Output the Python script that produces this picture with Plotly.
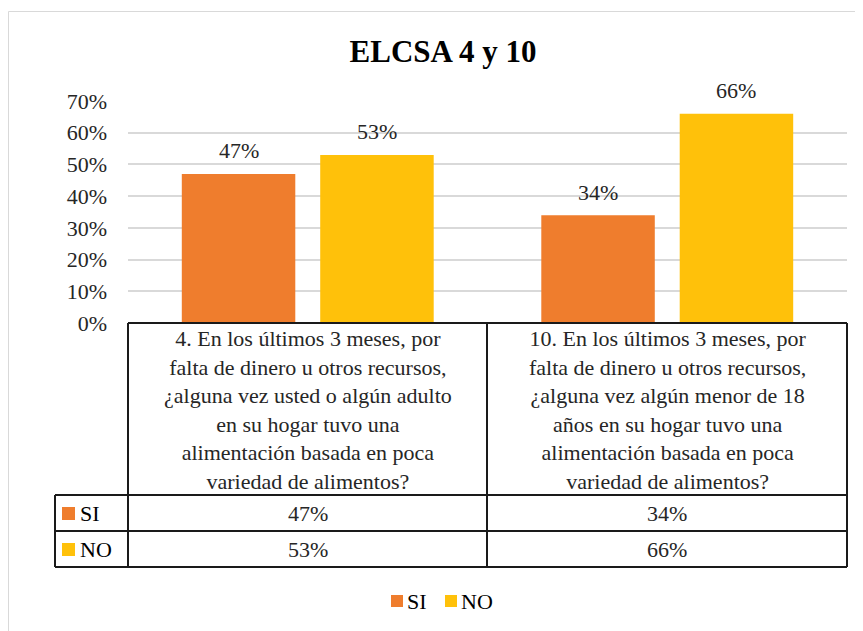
import plotly.graph_objects as go

categories = [
    "4. En los últimos 3 meses, por<br>falta de dinero u otros recursos,<br>¿alguna vez usted o algún adulto<br>en su hogar tuvo una<br>alimentación basada en poca<br>variedad de alimentos?",
    "10. En los últimos 3 meses, por<br>falta de dinero u otros recursos,<br>¿alguna vez algún menor de 18<br>años en su hogar tuvo una<br>alimentación basada en poca<br>variedad de alimentos?",
]
series_names = ["SI", "NO"]
si_values = [0.47, 0.34]
no_values = [0.53, 0.66]
tick_values = [0, 0.1, 0.2, 0.3, 0.4, 0.5, 0.6, 0.7]

FONT = "Liberation Serif"
TXT = "#262626"
colors = {"SI": "#EF7D2D", "NO": "#FFC10A"}

# page offset (body margin) compensation: screen coords -> figure coords
OFF = 8
W, H = 855, 623
ML, MR, MT, MB = 128 - OFF, W - (847 - OFF), 101 - OFF, H - (323 - OFF)
PW = W - ML - MR
PH = H - MT - MB


def px_x(x):
    return (x - OFF - ML) / PW


def px_y(y):
    return (H - MB - (y - OFF)) / PH


fig = go.Figure()
for name, vals in zip(series_names, [si_values, no_values]):
    fig.add_trace(go.Bar(
        x=categories, y=vals, name=name,
        marker=dict(color=colors[name], line=dict(width=0)),
        hovertemplate="%{y:.0%}<extra>" + name + "</extra>",
    ))

annotations = []
# data labels above bars
label_shift = {"SI": -69, "NO": 69}
for name, vals in zip(series_names, [si_values, no_values]):
    for cat, v in zip(categories, vals):
        annotations.append(dict(x=cat, xref="x", y=v, yref="y", text=f"{round(v*100)}%",
                                showarrow=False, xshift=label_shift[name], yshift=23,
                                yanchor="middle",
                                font=dict(family=FONT, size=22, color=TXT)))

shapes = []
# outer chart border
shapes.append(dict(type="rect", xref="paper", yref="paper",
                   x0=px_x(8.5), x1=px_x(900), y0=px_y(11.5), y1=px_y(700),
                   line=dict(color="#D9D9D9", width=1), layer="below"))
line_style = dict(color="#1a1a1a", width=2)


def hline(y, x0, x1):
    shapes.append(dict(type="line", xref="paper", yref="paper",
                       x0=px_x(x0), x1=px_x(x1), y0=px_y(y), y1=px_y(y), line=line_style))


def vline(x, y0, y1):
    shapes.append(dict(type="line", xref="paper", yref="paper",
                       x0=px_x(x), x1=px_x(x), y0=px_y(y0), y1=px_y(y1), line=line_style))


hline(323, 128, 847)
hline(495, 55, 847)
hline(531, 55, 847)
hline(567, 55, 847)
vline(55, 495, 567)
vline(128, 323, 567)
vline(487, 323, 567)
vline(847, 323, 567)

for i, cat in enumerate(categories):
    annotations.append(dict(x=cat, xref="x", y=px_y(410), yref="paper",
                            text=cat, showarrow=False, yanchor="middle",
                            font=dict(family=FONT, size=22, color=TXT), align="center"))
row_centers = {"SI": 513, "NO": 549}
for name, vals in zip(series_names, [si_values, no_values]):
    yc = row_centers[name]
    for cat, v in zip(categories, vals):
        annotations.append(dict(x=cat, xref="x", y=px_y(yc), yref="paper",
                                text=f"{round(v*100)}%", showarrow=False, yanchor="middle",
                                font=dict(family=FONT, size=22, color=TXT)))
    shapes.append(dict(type="rect", xref="paper", yref="paper",
                       x0=px_x(62), x1=px_x(75), y0=px_y(yc - 6), y1=px_y(yc + 7),
                       fillcolor=colors[name], line=dict(width=0)))
    annotations.append(dict(x=px_x(78), xref="paper", y=px_y(yc), yref="paper",
                            text=name, showarrow=False, xanchor="left", yanchor="middle",
                            font=dict(family=FONT, size=22, color="#000000")))

# legend (drawn below the table)
legend_pos = {"SI": 391, "NO": 445}
for name in series_names:
    lx = legend_pos[name]
    shapes.append(dict(type="rect", xref="paper", yref="paper",
                       x0=px_x(lx), x1=px_x(lx + 12), y0=px_y(595), y1=px_y(607),
                       fillcolor=colors[name], line=dict(width=0)))
    annotations.append(dict(x=px_x(lx + 14), xref="paper", y=px_y(601), yref="paper",
                            text=name, showarrow=False, xanchor="left", yanchor="middle",
                            font=dict(family=FONT, size=22, color="#000000")))

fig.update_layout(
    width=W, height=H,
    margin=dict(l=ML, r=MR, t=MT, b=MB),
    paper_bgcolor="white", plot_bgcolor="white",
    title=dict(text="<b>ELCSA 4 y 10</b>", x=(443 - OFF) / W, xanchor="center",
               y=1 - (51 - OFF) / H, yanchor="middle", yref="container",
               font=dict(family=FONT, size=31, color="#000000")),
    barmode="group", bargap=0.23, bargroupgap=0.18,
    xaxis=dict(showticklabels=False, showgrid=False, zeroline=False, showline=False),
    yaxis=dict(range=[0, 0.7], tickvals=tick_values, tickformat=".0%",
               showgrid=True, gridcolor="#D9D9D9", gridwidth=1.5,
               zeroline=False, showline=False, ticks="", ticklabelstandoff=20,
               tickfont=dict(family=FONT, size=22, color=TXT)),
    showlegend=False,
    shapes=shapes, annotations=annotations,
)

fig.write_html("out.html")
